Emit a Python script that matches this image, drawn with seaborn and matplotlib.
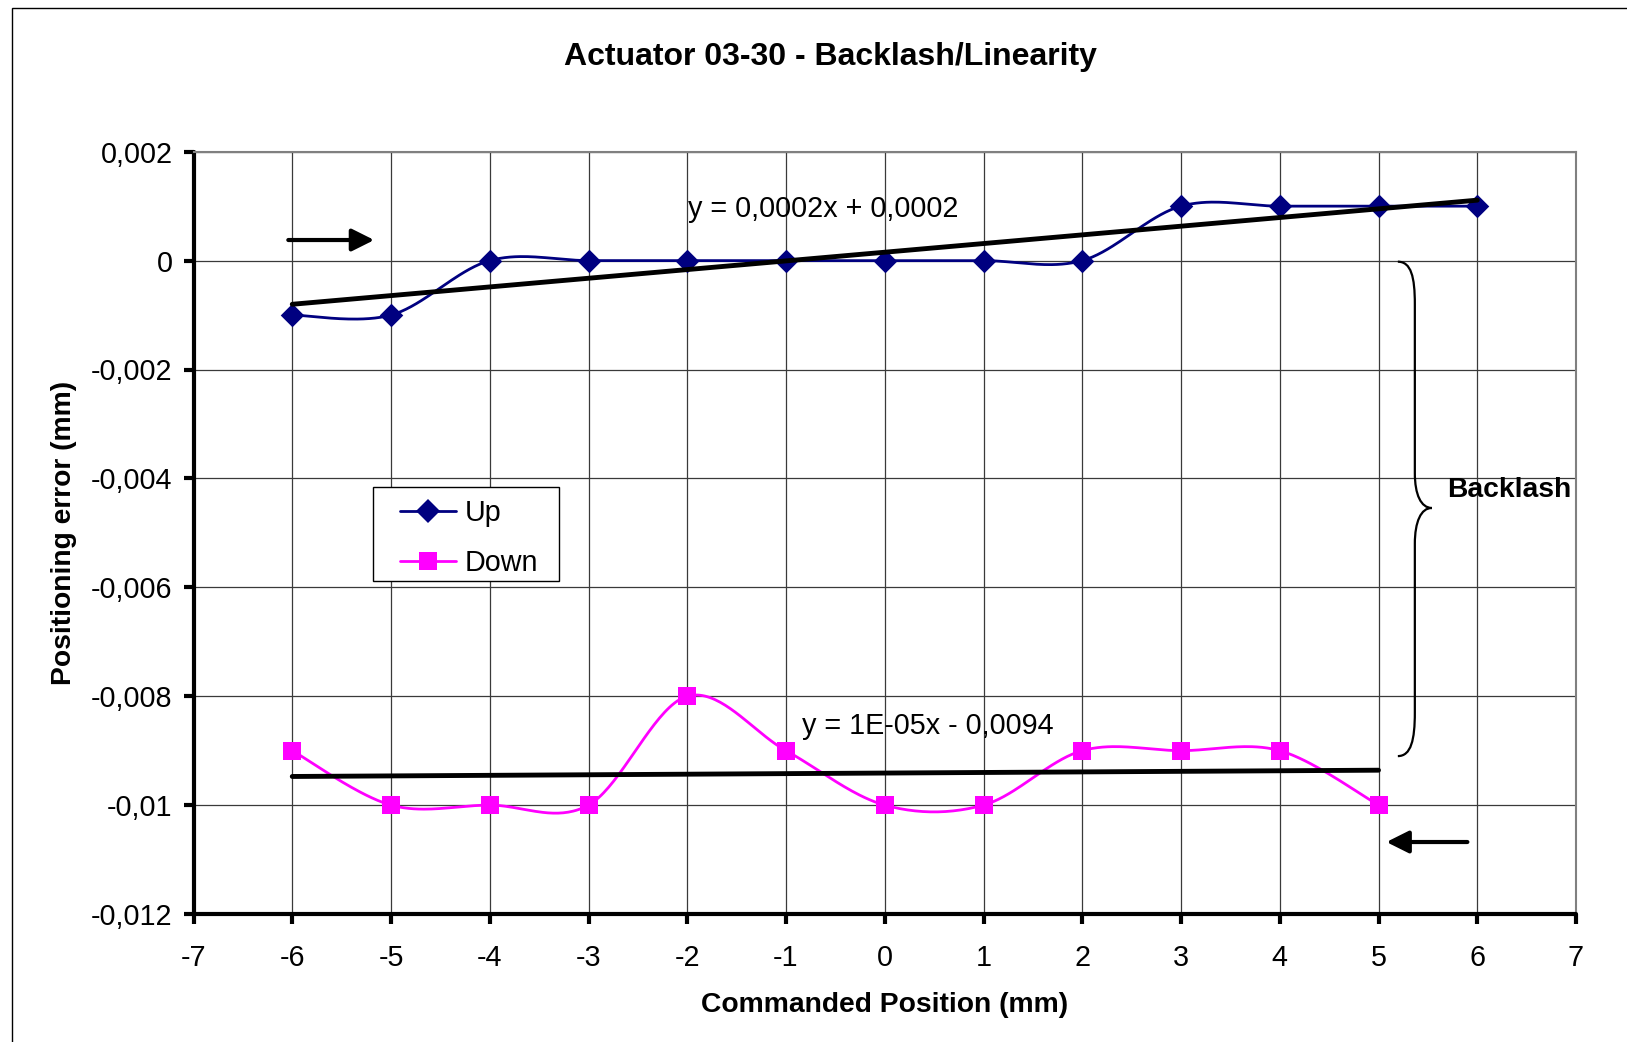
import numpy as np
import pandas as pd
import matplotlib
matplotlib.use("Agg")
import matplotlib.pyplot as plt
import seaborn as sns
from matplotlib.lines import Line2D
from matplotlib.patches import Rectangle, PathPatch
from matplotlib.path import Path

# Measured positioning error per commanded position
up_x = [-6, -5, -4, -3, -2, -1, 0, 1, 2, 3, 4, 5, 6]
up_y = [-0.001, -0.001, 0, 0, 0, 0, 0, 0, 0, 0.001, 0.001, 0.001, 0.001]
down_x = [-6, -5, -4, -3, -2, -1, 0, 1, 2, 3, 4, 5]
down_y = [-0.009, -0.010, -0.010, -0.010, -0.008, -0.009,
          -0.010, -0.010, -0.009, -0.009, -0.009, -0.010]

x_ticks = list(range(-7, 8))
x_tick_labels = [str(v) for v in x_ticks]
y_ticks = [0.002, 0, -0.002, -0.004, -0.006, -0.008, -0.010, -0.012]
y_tick_labels = ["0,002", "0", "-0,002", "-0,004", "-0,006", "-0,008", "-0,01", "-0,012"]

up_eq = "y = 0,0002x + 0,0002"
down_eq = "y = 1E-05x - 0,0094"

UP_COLOR = "#000080"
DOWN_COLOR = "#FF00FF"
UP_MS = 12.0
DOWN_MS = 12.5
SERIES_LW = 2.0
FS = 20.7      # regular text size
FS_BOLD = 20.3

sns.set_theme(style="white")
plt.rcParams["font.family"] = ["Liberation Sans", "DejaVu Sans"]
plt.rcParams["axes.unicode_minus"] = False
for key in ("text.color", "axes.labelcolor", "xtick.color", "ytick.color"):
    plt.rcParams[key] = "black"


def smooth(xs, ys, n=40):
    """Smoothed line through the points (cubic Bezier, Catmull-Rom tangents)."""
    P = np.column_stack([xs, ys]).astype(float)
    E = np.vstack([P[0], P, P[-1]])
    t = np.linspace(0, 1, n)[1:, None]
    out = [P[0]]
    for i in range(len(P) - 1):
        p0, p1 = E[i + 1], E[i + 2]
        c1 = p0 + (E[i + 2] - E[i]) / 6
        c2 = p1 - (E[i + 3] - E[i + 1]) / 6
        seg = (1 - t) ** 3 * p0 + 3 * (1 - t) ** 2 * t * c1 + 3 * (1 - t) * t ** 2 * c2 + t ** 3 * p1
        out.extend(seg)
    return np.array(out)


W, H = 1627, 1042
fig = plt.figure(figsize=(W / 100, H / 100), dpi=100)
fig.patch.set_facecolor("white")

# chart-area frame (left and top edges)
fig.patches.append(Rectangle((12 / W, -0.1), 1.2, 1.1 - 8 / H, transform=fig.transFigure,
                             fill=False, edgecolor="black", linewidth=1.0))

ax = fig.add_axes([193.5 / W, 1 - 914 / H, (1576 - 193.5) / W, (914 - 151.7) / H])
ax.set_facecolor("white")

# smoothed series lines
up_s = smooth(up_x, up_y)
down_s = smooth(down_x, down_y)
sns.lineplot(x=up_s[:, 0], y=up_s[:, 1], sort=False, estimator=None, ax=ax,
             color=UP_COLOR, linewidth=SERIES_LW, zorder=3)
sns.lineplot(x=down_s[:, 0], y=down_s[:, 1], sort=False, estimator=None, ax=ax,
             color=DOWN_COLOR, linewidth=SERIES_LW, zorder=3)

# markers at measured points
up_df = pd.DataFrame({"x": up_x, "y": up_y})
down_df = pd.DataFrame({"x": down_x, "y": down_y})
sns.scatterplot(data=up_df, x="x", y="y", marker="D", s=UP_MS ** 2, color=UP_COLOR,
                edgecolor=UP_COLOR, linewidth=0, ax=ax, zorder=4)
sns.scatterplot(data=down_df, x="x", y="y", marker="s", s=DOWN_MS ** 2, color=DOWN_COLOR,
                edgecolor=DOWN_COLOR, linewidth=0, ax=ax, zorder=4)

# linear trend lines
for xs, ys in ((up_x, up_y), (down_x, down_y)):
    k, b = np.polyfit(xs, ys, 1)
    tx = np.array([min(xs), max(xs)])
    sns.lineplot(x=tx, y=k * tx + b, ax=ax, color="black", linewidth=3.5, zorder=5)

ax.text(-1.99, 0.00094, up_eq, fontsize=FS, ha="left", va="center", zorder=6)
ax.text(-0.84, -0.00855, down_eq, fontsize=FS, ha="left", va="center", zorder=6)

# direction arrows
arrow_kw = dict(arrowstyle="-|>,head_length=0.9,head_width=0.45", lw=3, color="black",
                mutation_scale=15, shrinkA=0, shrinkB=0)
ax.annotate("", xy=(-5.17, 0.000378), xytext=(-6.04, 0.000378), arrowprops=arrow_kw, zorder=6)
ax.annotate("", xy=(5.08, -0.010678), xytext=(5.90, -0.010678), arrowprops=arrow_kw, zorder=6)

# backlash brace
bx0, bx1, bx2 = 5.196, 5.368, 5.540
verts = [
    (bx0, -0.00002), (5.33, -0.00002), (bx1, -0.0003), (bx1, -0.0008),
    (bx1, -0.0039),
    (bx1, -0.0043), (5.43, -0.00454), (bx2, -0.004544),
    (5.43, -0.00454), (bx1, -0.0048), (bx1, -0.0052),
    (bx1, -0.0083),
    (bx1, -0.0088), (5.33, -0.0091), (bx0, -0.0091),
]
codes = ([Path.MOVETO] + [Path.CURVE4] * 3 + [Path.LINETO] + [Path.CURVE4] * 3 +
         [Path.CURVE4] * 3 + [Path.LINETO] + [Path.CURVE4] * 3)
ax.add_patch(PathPatch(Path(verts, codes), fill=False, edgecolor="black", linewidth=1.6,
                       zorder=6, clip_on=False))
ax.text(5.69, -0.00422, "Backlash", fontsize=FS_BOLD, fontweight="bold", ha="left",
        va="center", zorder=6, clip_on=False)

# axes, ticks, grid
ax.set_xlim(-7, 7)
ax.set_ylim(-0.012, 0.002)
ax.set_xticks(x_ticks)
ax.set_xticklabels(x_tick_labels)
ax.set_yticks(y_ticks)
ax.set_yticklabels(y_tick_labels)
ax.grid(True, color="#3a3a3a", linewidth=0.9, zorder=0)
ax.set_axisbelow(True)

for side in ("left", "bottom"):
    ax.spines[side].set_color("black")
    ax.spines[side].set_linewidth(3.0)
    ax.spines[side].set_capstyle("round")
for side in ("top", "right"):
    ax.spines[side].set_color("#808080")
    ax.spines[side].set_linewidth(1.5)

ax.tick_params(axis="both", which="major", direction="out", length=7, width=3,
               color="black", labelsize=FS, labelcolor="black")
ax.tick_params(axis="x", pad=14.5, bottom=True)
ax.tick_params(axis="y", pad=8, left=True)
for tl in ax.xaxis.get_ticklines() + ax.yaxis.get_ticklines():
    tl.set_solid_capstyle("round")

ax.set_xlabel("Commanded Position (mm)", fontsize=FS_BOLD, fontweight="bold")
ax.set_ylabel("Positioning error (mm)", fontsize=FS_BOLD, fontweight="bold")
ax.xaxis.set_label_coords(0.5, (914 - 1005) / (914 - 151.7))
ax.xaxis.label.set_va("center")
ax.yaxis.set_label_coords((64 - 193.5) / (1576 - 193.5), 0.5)
ax.yaxis.label.set_va("center")

fig.text(830 / W, 1 - 57 / H, "Actuator 03-30 - Backlash/Linearity", fontsize=23,
         fontweight="bold", ha="center", va="center")

# legend with its own frame box
ax.add_patch(Rectangle((373 / W, 1 - 581 / H), (559 - 373) / W, (581 - 487) / H,
                       transform=fig.transFigure, facecolor="white", edgecolor="black",
                       linewidth=1.0, zorder=6.5, clip_on=False))
handles = [
    Line2D([], [], color=UP_COLOR, linewidth=SERIES_LW, marker="D", markersize=UP_MS,
           markerfacecolor=UP_COLOR, markeredgewidth=0),
    Line2D([], [], color=DOWN_COLOR, linewidth=SERIES_LW, marker="s", markersize=DOWN_MS,
           markerfacecolor=DOWN_COLOR, markeredgewidth=0),
]
leg = ax.legend(handles, ["Up", "Down"], loc="upper left", frameon=False, fontsize=FS,
                bbox_to_anchor=(400 / W, 1 - 499 / H), bbox_transform=fig.transFigure,
                borderaxespad=0, borderpad=0, handlelength=1.95, handletextpad=0.3,
                labelspacing=0.75)
leg.set_zorder(7)

fig.savefig("out.png", dpi=100, facecolor="white")
